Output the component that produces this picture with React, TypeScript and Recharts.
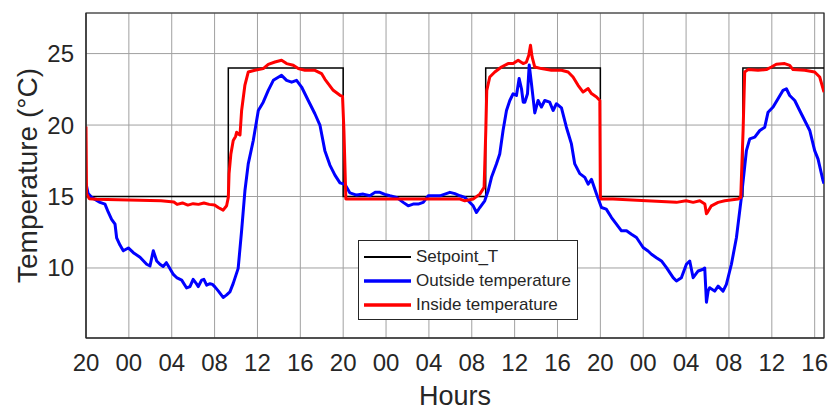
import React from 'react';
import { LineChart, Line, XAxis, YAxis, CartesianGrid, Legend, ReferenceArea, Label } from 'recharts';

// Hours since 20:00 on day 1
const hourTicks = [0, 4, 8, 12, 16, 20, 24, 28, 32, 36, 40, 44, 48, 52, 56, 60, 64, 68];
const hourLabels = ['20', '00', '04', '08', '12', '16', '20', '00', '04', '08', '12', '16', '20', '00', '04', '08', '12', '16'];
const tempTicks = [10, 15, 20, 25];

const setpointHours = [0, 13.28, 24, 37.3, 48, 61.3, 68.87];
const setpointTemps = [15, 24, 15, 24, 15, 24, 24];

const outsideHours = [
  0, 0.2, 0.53, 1.31, 1.77, 2.08, 2.39, 2.71, 2.86, 3.17, 3.48, 3.95, 4.42, 5.04, 5.66, 5.97, 6.28, 6.6, 6.9, 7.2,
  7.5, 7.8, 8.15, 8.5, 8.93, 9.39, 9.7, 10.0, 10.3, 10.48, 10.79, 11.0, 11.26, 11.57, 11.8, 12.03, 12.34, 12.8, 13.1, 13.43,
  13.74, 14.2, 14.52, 14.83, 15.14, 15.61, 16.08, 16.54, 17.01, 17.48, 18.25, 18.72, 19.19, 19.65, 20.12, 20.74, 21.36, 21.83, 22.29, 22.76,
  23.23, 23.7, 24.16, 24.63, 25.25, 25.87, 26.49, 26.96, 27.43, 27.89, 28.36, 28.98, 29.6, 30.07, 30.53, 31.0, 31.47, 31.93, 32.4, 33.02,
  33.49, 33.96, 34.42, 34.9, 35.35, 35.66, 36.13, 36.44, 36.75, 37.21, 37.53, 37.84, 38.3, 38.61, 38.92, 39.24, 39.55, 39.86, 40.17, 40.42,
  40.64, 40.8, 40.95, 41.2, 41.36, 41.57, 41.88, 42.19, 42.5, 42.81, 43.27, 43.59, 43.9, 44.37, 44.83, 45.3, 45.61, 46.08, 46.55, 46.86,
  47.17, 47.64, 48.1, 48.55, 49.04, 49.5, 49.97, 50.44, 50.9, 51.37, 51.99, 52.45, 52.77, 53.23, 53.7, 54.17, 54.79, 55.1, 55.56, 56.03,
  56.34, 56.66, 57.13, 57.59, 57.74, 57.9, 58.06, 58.2, 58.67, 58.99, 59.45, 59.76, 60.23, 60.7, 61.16, 61.63, 61.94, 62.41, 62.88, 63.34,
  63.65, 64.12, 64.58, 65.05, 65.36, 65.67, 66.14, 66.6, 67.07, 67.54, 68.0, 68.31, 68.78, 68.87,
];
const outsideTemps = [
  15.9, 15.2, 14.94, 14.59, 14.47, 13.9, 13.4, 13.06, 12.1, 11.6, 11.2, 11.4, 11.07, 10.75, 10.26, 10.14, 11.2, 10.49, 10.26, 10.1,
  10.37, 10.0, 9.55, 9.3, 9.15, 8.6, 8.7, 9.2, 8.9, 8.7, 9.15, 9.2, 8.8, 8.9, 8.85, 8.68, 8.4, 7.94, 8.1, 8.33,
  8.92, 9.97, 12.6, 15.4, 17.28, 18.92, 21.02, 21.6, 22.43, 23.13, 23.48, 23.13, 23.0, 23.13, 22.66, 21.72, 20.79, 20.0, 18.21, 17.2,
  16.5, 15.95, 15.85, 15.25, 15.1, 15.17, 15.05, 15.29, 15.29, 15.15, 15.05, 14.94, 14.59, 14.35, 14.47, 14.47, 14.59, 15.05, 15.05, 15.05,
  15.17, 15.29, 15.2, 15.05, 14.94, 14.7, 14.35, 13.88, 14.23, 14.7, 15.4, 16.34, 17.28, 17.98, 19.62, 21.02, 21.72, 22.19, 22.07, 23.25,
  22.54, 21.6, 21.6, 22.19, 24.2, 22.9, 20.85, 21.72, 21.26, 21.72, 21.6, 21.02, 21.49, 21.2, 19.85, 18.68, 17.28, 16.6, 16.34, 15.87,
  16.2, 15.17, 14.23, 14.12, 13.53, 13.06, 12.6, 12.6, 12.36, 12.13, 11.43, 11.19, 10.96, 10.72, 10.49, 10.02, 9.32, 9.09, 9.32, 10.26,
  10.49, 9.32, 9.79, 9.91, 10.0, 7.6, 8.4, 8.62, 8.38, 8.73, 8.38, 8.85, 10.26, 12.13, 14.94, 18.21, 19.03, 19.15, 19.62, 19.85,
  20.9, 21.26, 21.84, 22.43, 22.54, 22.07, 21.72, 21.02, 20.32, 19.62, 18.21, 17.63, 16.11, 15.9,
];

const insideHours = [
  0, 0.05, 0.3, 1.0, 3.0, 5.0, 7.0, 8.2, 8.5, 9.0, 9.5, 10.0, 10.5, 11.0, 11.5, 12.0, 12.34, 12.8, 13.12, 13.28,
  13.35, 13.52, 13.74, 13.96, 14.06, 14.2, 14.37, 14.52, 14.83, 15.14, 15.76, 16.54, 17.01, 17.63, 18.25, 18.72, 19.34, 19.81, 20.43, 21.36,
  21.98, 22.3, 22.6, 23.07, 23.7, 23.94, 24.07, 24.25, 28.0, 32.0, 34.9, 35.35, 36.13, 36.75, 37.15, 37.31, 37.4, 37.68, 38.15, 38.77,
  39.39, 39.86, 40.33, 40.79, 41.1, 41.32, 41.48, 41.63, 41.88, 42.5, 43.43, 44.37, 44.99, 45.45, 45.92, 46.39, 46.86, 47.17, 47.64, 47.95,
  48.0, 48.1, 49.18, 52.3, 55.1, 56.0, 56.66, 57.28, 57.75, 57.9, 58.0, 58.36, 58.99, 59.61, 60.85, 61.1, 61.32, 61.47, 61.78, 62.71,
  63.49, 63.96, 64.42, 65.2, 65.67, 65.98, 67.07, 68.0, 68.47, 68.87,
];
const insideTemps = [
  19.9, 15.2, 14.85, 14.8, 14.78, 14.74, 14.7, 14.62, 14.45, 14.55, 14.4, 14.5, 14.45, 14.55, 14.45, 14.4, 14.23, 14.05, 14.35, 14.94,
  16.6, 17.98, 18.92, 19.2, 19.5, 19.38, 19.3, 21.0, 22.8, 23.71, 23.83, 23.95, 24.25, 24.41, 24.53, 24.3, 24.18, 23.95, 23.83, 23.83,
  23.6, 23.2, 22.9, 22.43, 22.08, 22.0, 19.6, 14.82, 14.82, 14.82, 14.82, 14.7, 14.82, 15.17, 15.64, 19.62, 22.43, 23.36, 23.71, 24.06,
  24.3, 24.3, 24.53, 24.3, 24.41, 24.88, 25.58, 24.77, 24.06, 23.95, 23.83, 23.83, 23.71, 23.36, 22.78, 22.31, 22.55, 22.2, 21.96, 21.72,
  14.94, 14.82, 14.82, 14.7, 14.59, 14.7, 14.59, 14.7, 14.47, 13.8, 13.9, 14.35, 14.59, 14.7, 14.82, 14.94, 19.62, 23.71, 23.88, 23.83,
  23.88, 24.06, 24.25, 24.3, 24.18, 23.88, 23.83, 23.71, 23.36, 22.3,
];

const seriesNames = ['Setpoint_T', 'Outside temperature', 'Inside temperature'];
const seriesColors = ['#000000', '#0000ff', '#ff0000'];
const seriesWidths = [1.5, 3, 3];

const zip = (hs: number[], ts: number[]) => hs.map((h, i) => ({ h, t: ts[i] }));
const setpointData = zip(setpointHours, setpointTemps);
const outsideData = zip(outsideHours, outsideTemps);
const insideData = zip(insideHours, insideTemps);

const X_MAX = 68.87;
const Y_MIN = 5.1;
const Y_MAX = 27.84;
const TEXT = '#262626';

const YAxisTitle = (props: any) => {
  const vb = props.viewBox || { x: 0, y: 0, width: 86, height: 325 };
  const x = vb.x + 37;
  const y = vb.y + vb.height / 2;
  return (
    <text x={x} y={y} transform={`rotate(-90, ${x}, ${y})`} textAnchor="middle" fontSize={28} fill={TEXT}>
      Temperature (°C)
    </text>
  );
};

const LegendBox = (props: any) => {
  const payload = [...(props.payload || [])].sort(
    (a: any, b: any) => seriesNames.indexOf(a.value) - seriesNames.indexOf(b.value)
  );
  return (
    <div
      style={{
        border: `1px solid ${TEXT}`,
        background: '#fff',
        width: 220,
        height: 80,
        boxSizing: 'border-box',
        paddingTop: 4,
      }}
    >
      {payload.map((p: any, i: number) => {
        const idx = seriesNames.indexOf(p.value);
        return (
          <div key={i} style={{ display: 'flex', alignItems: 'center', height: 24 }}>
            <svg width={57} height={24} style={{ flex: 'none' }}>
              <line x1={5} x2={52} y1={12} y2={12} stroke={seriesColors[idx]} strokeWidth={seriesWidths[idx] + 0.5} />
            </svg>
            <span style={{ fontSize: 17, color: TEXT, whiteSpace: 'nowrap' }}>{p.value}</span>
          </div>
        );
      })}
    </div>
  );
};

export default function App() {
  return (
    <div style={{ position: 'absolute', left: 0, top: 0, fontFamily: '"Liberation Sans", Arial, Helvetica, sans-serif' }}>
      <LineChart width={831} height={410} margin={{ top: 13, right: 7, bottom: 0, left: 0 }}>
        <CartesianGrid stroke="#a0a0a0" strokeWidth={1} />
        <XAxis
          type="number"
          dataKey="h"
          domain={[0, X_MAX]}
          ticks={hourTicks}
          interval={0}
          allowDataOverflow
          tickFormatter={(v: number) => hourLabels[hourTicks.indexOf(v)]}
          tickLine={false}
          tickSize={6}
          tickMargin={10}
          axisLine={{ stroke: TEXT }}
          tick={{ fontSize: 24, fill: TEXT }}
          height={72}
        >
          <Label value="Hours" position="insideBottom" offset={5} fontSize={27} fill={TEXT} />
        </XAxis>
        <YAxis
          type="number"
          domain={[Y_MIN, Y_MAX]}
          ticks={tempTicks}
          interval={0}
          allowDataOverflow
          tickLine={false}
          tickSize={6}
          tickMargin={6}
          axisLine={{ stroke: TEXT }}
          tick={{ fontSize: 24, fill: TEXT }}
          width={86}
          label={<YAxisTitle />}
        />
        <ReferenceArea x1={0} x2={X_MAX} y1={Y_MIN} y2={Y_MAX} fill="none" stroke={TEXT} strokeWidth={1.2} ifOverflow="visible" />
        <Line
          data={setpointData}
          dataKey="t"
          name={seriesNames[0]}
          type="stepAfter"
          stroke={seriesColors[0]}
          strokeWidth={seriesWidths[0]}
          dot={false}
          isAnimationActive={false}
        />
        <Line
          data={outsideData}
          dataKey="t"
          name={seriesNames[1]}
          type="linear"
          stroke={seriesColors[1]}
          strokeWidth={seriesWidths[1]}
          strokeLinejoin="round"
          dot={false}
          isAnimationActive={false}
        />
        <Line
          data={insideData}
          dataKey="t"
          name={seriesNames[2]}
          type="linear"
          stroke={seriesColors[2]}
          strokeWidth={seriesWidths[2]}
          strokeLinejoin="round"
          dot={false}
          isAnimationActive={false}
        />
        <Legend
          layout="vertical"
          align="center"
          verticalAlign="middle"
          content={<LegendBox />}
          wrapperStyle={{ left: 358, top: 240, width: 220, height: 80 }}
        />
      </LineChart>
    </div>
  );
}
